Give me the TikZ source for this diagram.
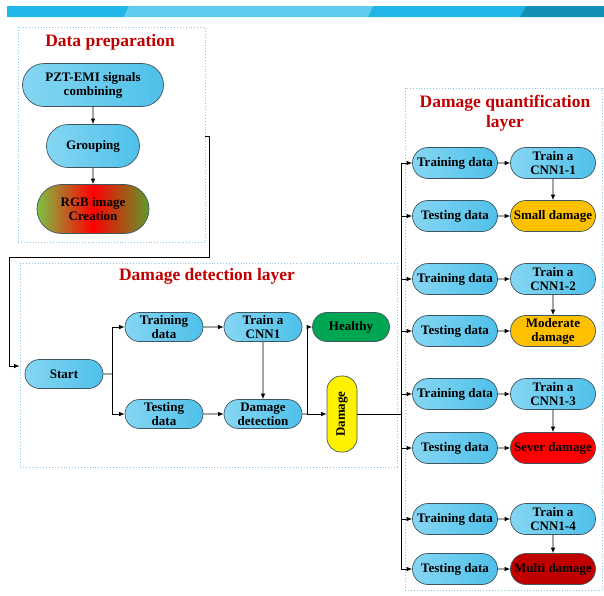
\documentclass[tikz,border=0pt]{standalone}
\usepackage{fontspec}
\setmainfont{Liberation Serif}
\usepackage{tikz}
\usetikzlibrary{arrows.meta,positioning,shapes.misc,calc}
\definecolor{BandBlue}{HTML}{21B6E8}
\definecolor{BandLight}{HTML}{5ECBEF}
\definecolor{BandDark}{HTML}{1290B8}
\definecolor{SkyA}{HTML}{86D6F2}
\definecolor{SkyB}{HTML}{4EC0EA}
\definecolor{Edge}{HTML}{3F5560}
\definecolor{Frame}{HTML}{8CC6EA}
\definecolor{Heading}{HTML}{C00000}
\definecolor{LeafGreen}{HTML}{7CC243}
\definecolor{MossGreen}{HTML}{5E9A2A}
\definecolor{Healthy}{HTML}{00A651}
\definecolor{Amber}{HTML}{FFC000}
\definecolor{Scarlet}{HTML}{FF0000}
\definecolor{Crimson}{HTML}{C00000}

\begin{document}
\begin{tikzpicture}[x=1pt,y=-1pt,>={Latex[length=5.5pt,width=4.5pt]},line width=0.8pt,
    font=\fontsize{13}{14}\selectfont\bfseries]
  \tikzset{proc/.style={rounded rectangle,draw=Edge,line width=0.7pt,left color=SkyA,right color=SkyB,
             inner sep=0pt,align=center,minimum width=78,minimum height=29},
           qbox/.style={proc,minimum width=85,minimum height=31},
           result/.style={rounded rectangle,draw=Edge,line width=0.7pt,inner sep=0pt,align=center,
             minimum width=85,minimum height=31},
           layer/.style={draw=Frame,dotted,line width=0.9pt,inner sep=0pt},
           heading/.style={text=Heading,font=\fontsize{17.5}{20}\selectfont\bfseries,align=center}}
  \useasboundingbox (0,0) rectangle (604,595);
  % top band
  \fill[BandBlue] (7,6) -- (129,6) -- (124,17) -- (7,17) -- cycle;
  \fill[BandLight] (129,6) -- (373,6) -- (368,17) -- (124,17) -- cycle;
  \fill[BandBlue] (373,6) -- (526,6) -- (520,17) -- (368,17) -- cycle;
  \fill[BandDark] (526,6) -- (604,6) -- (604,17) -- (520,17) -- cycle;
  % layers
  \node[layer,minimum width=187,minimum height=215] (prep) at (111.5,134.5) {};
  \node[layer,minimum width=377,minimum height=204] (det) at (208.5,365) {};
  \node[layer,minimum width=197,minimum height=502] (quant) at (503.5,339) {};
  \node[heading] (preptitle) at (110,42) {Data preparation};
  \node[heading] (dettitle) at (207,276) {Damage detection layer};
  \node[heading] (quanttitle) at (505,113) {Damage quantification\\layer};
  % data preparation
  \node[proc,minimum width=141,minimum height=43] (pzt) at (93,85) {PZT-EMI signals\\combining};
  \node[proc,minimum width=93,minimum height=43] (grp) at (93,146) {Grouping};
  \node[proc,minimum width=112,minimum height=49,left color=LeafGreen,right color=MossGreen,middle color=red] (rgb) at (93,209) {RGB image\\Creation};
  \draw[->] (pzt) -- (grp);
  \draw[->] (grp) -- (rgb);
  % detection layer
  \node[proc] (start) at (64,374) {Start};
  \node[proc] (train) at (164,327) {Training\\data};
  \node[proc] (test) at (164,414) {Testing\\data};
  \node[proc] (cnn) at (263,327) {Train a\\CNN1};
  \node[proc] (ddet) at (263,414) {Damage\\detection};
  \node[result,minimum width=77,minimum height=29,fill=Healthy] (healthy) at (351,327) {Healthy};
  \node[draw=Edge,line width=0.7pt,fill=yellow,rounded corners=14pt,minimum width=30,minimum height=76,inner sep=0pt] (dmg) at (342,414) {\rotatebox{90}{Damage}};
  \coordinate (tick) at (209,136);
  \coordinate (turn) at (9,257);
  \draw[->] (prep.east |- tick) -- (tick) |- (turn) |- (det.west |- 0,366);
  \coordinate (split) at (112,374);
  \draw (start) -- (split);
  \draw[->] (split) |- (train);
  \draw[->] (split) |- (test);
  \draw[->] (train) -- (cnn);
  \draw[->] (test) -- (ddet);
  \draw[->] (cnn) -- (ddet);
  \coordinate (fork) at (307,414);
  \draw (ddet) -- (fork);
  \draw[->] (fork) |- (healthy);
  \draw[->] (fork) -- (dmg);
  % quantification layer
  \coordinate (qtop) at (401,163);
  \coordinate (qbot) at (401,569);
  \draw (qtop) -- (qbot);
  \draw (dmg) -- (dmg -| qtop);
  \foreach \i/\ya/\yb/\res/\col in {1/163/216/Small damage/Amber,2/279/331/{Moderate\\damage}/Amber,
      3/394/448/Sever damage/Scarlet,4/519/569/Multi damage/Crimson}{
    \node[qbox] (tr\i) at (455,\ya) {Training data};
    \node[qbox] (cn\i) at (553,\ya) {Train a\\CNN1-\i};
    \node[qbox] (ts\i) at (455,\yb) {Testing data};
    \node[result,fill=\col] (rs\i) at (553,\yb) {\res};
    \draw[->] (qtop |- tr\i) -- (tr\i);
    \draw[->] (qtop |- ts\i) -- (ts\i);
    \draw[->] (tr\i) -- (cn\i);
    \draw[->] (ts\i) -- (rs\i);
    \draw[->] (cn\i) -- (rs\i);
  }
\end{tikzpicture}
\end{document}
